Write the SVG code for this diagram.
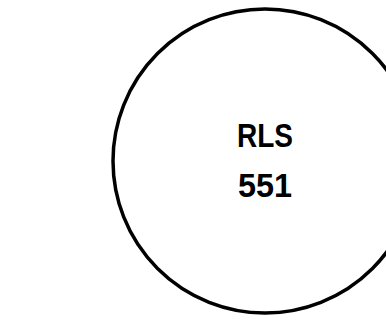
<svg xmlns="http://www.w3.org/2000/svg" width="386" height="325" viewBox="0 0 386 325">
<style>
.node{fill:#fff;stroke:#000;stroke-width:3.5}
.lbl{font-family:"Liberation Sans",Arial,sans-serif;font-weight:bold;font-size:33px;fill:#000;text-anchor:middle}
</style>
<rect width="386" height="325" fill="#fff"/>
<g id="connectors"></g>
<g id="rls551">
<circle class="node" cx="265" cy="161" r="152"/>
<text class="lbl" x="265" y="147" textLength="56" lengthAdjust="spacingAndGlyphs">RLS</text>
<text class="lbl" x="265" y="197" textLength="54" lengthAdjust="spacingAndGlyphs">551</text>
</g>
</svg>
